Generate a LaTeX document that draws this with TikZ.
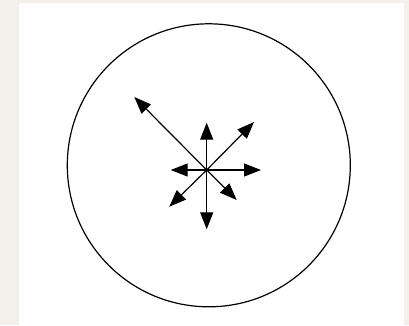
\documentclass[tikz,border=0pt]{standalone}
\usetikzlibrary{arrows.meta}
\definecolor{paper}{HTML}{F3F0E9}
\tikzset{
  arr/.style={line width=1.2pt, -{Triangle[length=17pt,width=13pt]}},
  ring/.style={draw=black, line width=1.2pt}
}
\begin{document}
\begin{tikzpicture}[x=1pt,y=-1pt]
\fill[paper] (0,0) rectangle (409,325);
\useasboundingbox (0,0) rectangle (409,325);
\fill[white] (19,3) rectangle (404,325);
\node[ring, circle, minimum size=283pt, inner sep=0pt] (ring) at (208.8,165.3) {};
\coordinate (c) at (206.7,170);
\coordinate (up) at (206.7,122.7);
\coordinate (down) at (206.7,229.3);
\coordinate (right) at (261,170);
\coordinate (left) at (170.7,170);
\coordinate (ul) at (134.3,97);
\coordinate (ur) at (254,122);
\coordinate (dl) at (169.3,206.7);
\coordinate (dr) at (236.7,200);
\foreach \t in {up,down,right,left,ul,ur,dl,dr}
  \draw[arr] (c) -- (\t);
\end{tikzpicture}
\end{document}
